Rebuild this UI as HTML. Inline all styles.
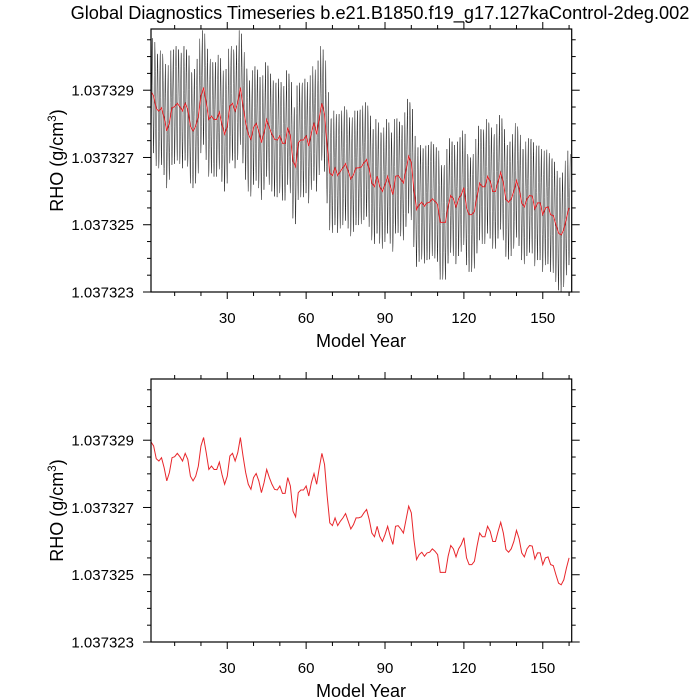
<!DOCTYPE html>
<html><head><meta charset="utf-8">
<style>
html,body{margin:0;padding:0;background:#fff;}
svg{display:block;font-family:"Liberation Sans",Helvetica,Arial,sans-serif;}
</style></head>
<body>
<svg id="chart" width="700" height="700" viewBox="0 0 700 700" xmlns="http://www.w3.org/2000/svg">
<text x="380" y="19" font-size="18.2" text-anchor="middle">Global Diagnostics Timeseries b.e21.B1850.f19_g17.127kaControl-2deg.002</text>
</svg>
<script>
// annual-mean RHO, in units of 1e-6 g/cm3 above 1.03732 (years 1..160)
const annualRho = [8.95,8.83,8.45,8.38,8.48,8.18,7.79,8.04,8.48,8.51,8.61,8.51,8.38,8.61,8.43,7.93,7.79,7.93,8.23,8.83,9.08,8.63,8.13,8.23,8.13,8.13,8.35,7.98,7.69,7.93,8.53,8.61,8.38,8.63,9.08,8.53,8.04,7.69,7.54,7.89,8.01,7.79,7.44,7.74,8.13,7.89,7.69,7.54,7.52,7.64,7.42,7.42,7.89,7.64,6.89,
6.72,7.44,7.52,7.52,7.64,7.34,7.74,8.01,7.69,8.18,8.61,8.28,7.34,6.54,6.46,6.69,6.46,6.59,6.69,6.82,6.59,6.36,6.49,6.69,6.69,6.72,6.84,6.94,6.64,6.24,6.13,6.44,6.14,5.99,6.19,6.44,6.14,5.90,6.44,6.46,6.36,6.24,6.64,7.04,6.84,6.04,5.45,
5.60,5.67,
5.55,5.65,5.67,5.77,5.70,5.60,5.07,5.07,5.07,5.55,5.87,5.77,5.53,5.77,5.90,6.10,5.50,5.30,5.30,5.40,5.85,6.24,6.13,6.13,6.44,6.29,5.99,5.99,6.29,6.56,6.24,5.75,5.67,5.77,5.99,6.32,6.07,5.65,5.53,5.77,5.87,5.85,5.47,5.65,5.65,5.30,5.50,5.53,5.30,5.27,5.00,4.75,4.70,4.85,5.20,5.50];
// mean seasonal cycle anomaly (1e-6 g/cm3), months Jan..Dec
const seasonalCycle = [1.7,1.1,0.3,-0.6,-1.3,-1.7,-1.5,-0.9,-0.1,0.6,1.2,1.6];
const xTickValues = [30,60,90,120,150];
const xTickLabels = ["30","60","90","120","150"];
const yTickValues = [3,5,7,9];
const yTickLabels = ["1.037323","1.037325","1.037327","1.037329"];

const NS = "http://www.w3.org/2000/svg";
const svg = document.getElementById('chart');
const X0 = 151, X1 = 571.7, XMIN = 1, XMAX = 161;
const YMIN = 3, YMAX = 10.82;
function mk(tag, attrs, parent){const e=document.createElementNS(NS,tag);for(const k in attrs)e.setAttribute(k,attrs[k]);(parent||svg).appendChild(e);return e;}

function panel(top, bottom, idx, withMonthly){
  const g = mk('g',{});
  
  
  const xs = v => X0 + (v - XMIN) / (XMAX - XMIN) * (X1 - X0);
  const ys = v => bottom - (v - YMIN) / (YMAX - YMIN) * (bottom - top);
  const cid = 'clip' + idx;
  const cp = mk('clipPath',{id:cid},g);
  mk('rect',{x:X0,y:top,width:X1-X0,height:bottom-top},cp);
  if (withMonthly){
    let d='';
    annualRho.forEach((a,i)=>{
      seasonalCycle.forEach((s,m)=>{
        const x = xs(i + 1 + (m - 5.5) / 12);
        const y = ys(a + s);
        d += (d ? 'L' : 'M') + x.toFixed(2) + ' ' + y.toFixed(2);
      });
    });
    const p = mk('path',{d:d,fill:'none',stroke:'#222','stroke-width':0.5,'clip-path':'url(#'+cid+')'},g);
    
    
  }
  let d2='';
  annualRho.forEach((a,i)=>{ d2 += (i ? 'L' : 'M') + xs(i + 1).toFixed(2) + ' ' + ys(a).toFixed(2); });
  const rl = mk('path',{d:d2,fill:'none',stroke:'#e8262b','stroke-width':1,'clip-path':'url(#'+cid+')'},g);
  
  
  const box = mk('rect',{x:X0,y:top,width:X1-X0,height:bottom-top,fill:'none',stroke:'#000','stroke-width':1.2},g);
  
  
  for (let v = 10; v <= 160; v += 10){
    const x = xs(v); const len = (v % 30 === 0) ? 7 : 4;
    mk('line',{x1:x,x2:x,y1:bottom,y2:bottom+len,stroke:'#000','stroke-width':1},g);
    mk('line',{x1:x,x2:x,y1:top,y2:top-len,stroke:'#000','stroke-width':1},g);
  }
  xTickValues.forEach((v,i)=>{
    const t = mk('text',{x:xs(v),y:bottom+31,'font-size':15,'text-anchor':'middle'},g);
    t.textContent = xTickLabels[i];
    
    
  });
  for (let v = 3; v <= 10.5; v += 0.5){
    const y = ys(v); const len = (v % 2 === 1) ? 8 : 4;
    mk('line',{x1:X0,x2:X0-len,y1:y,y2:y,stroke:'#000','stroke-width':1},g);
    mk('line',{x1:X1,x2:X1+len,y1:y,y2:y,stroke:'#000','stroke-width':1},g);
  }
  yTickValues.forEach((v,i)=>{
    const t = mk('text',{x:X0-17,y:ys(v)+5.5,'font-size':15,'text-anchor':'end'},g);
    t.textContent = yTickLabels[i];
    
    
  });
  const xt = mk('text',{x:361,y:bottom+55,'font-size':18,'text-anchor':'middle'},g);
  xt.textContent = 'Model Year';
  
  
  const cy = (top+bottom)/2;
  const yt = mk('text',{x:0,y:0,'font-size':18,'text-anchor':'middle',transform:'translate(63,'+cy+') rotate(-90)'},g);
  yt.textContent = 'RHO (g/cm';
  const sup = mk('tspan',{'font-size':11.5,dy:-7},yt); sup.textContent='3';
  const cl = mk('tspan',{dy:7},yt); cl.textContent=')';
  
  
}
panel(29, 292, 1, true);
panel(379, 642, 2, false);
</script>
</body></html>
